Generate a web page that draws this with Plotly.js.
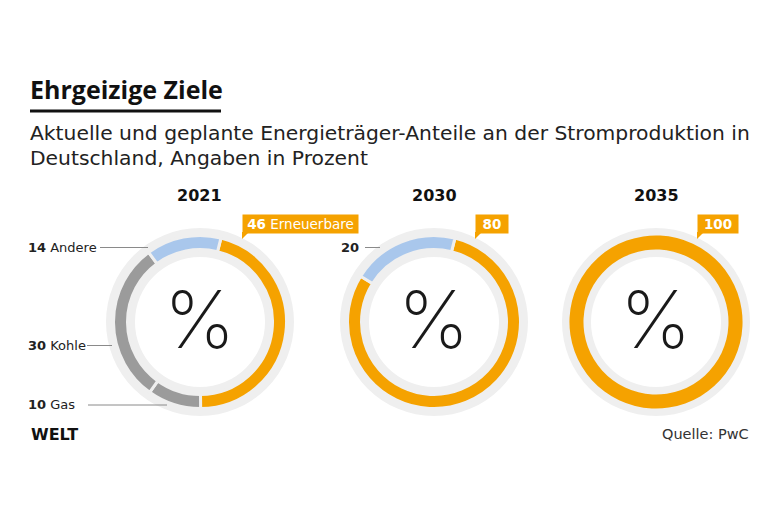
<!DOCTYPE html>
<html><head><meta charset="utf-8">
<script src="https://cdn.plot.ly/plotly-3.0.1.min.js"></script>
<style>html,body{margin:0;padding:0;background:#fff}#chart{width:780px;height:520px}</style>
</head><body><div id="chart"></div>
<script>
// ---- data ----
const years = ['2021', '2030', '2035'];
const categories = ['Erneuerbare', 'Gas', 'Kohle', 'Andere'];
const shares2021 = [46, 10, 30, 14];
const shares2030 = [80, 0, 0, 20];
const shares2035 = [100, 0, 0, 0];
const titleText = 'Ehrgeizige Ziele';
const subtitleLines = ['Aktuelle und geplante Energieträger-Anteile an der Stromproduktion in', 'Deutschland, Angaben in Prozent'];
const sourceText = 'Quelle: PwC';
const brandText = 'WELT';

// ---- layout helpers ----
const W = 780, H = 520;
const px = x => x / W, py = y => 1 - y / H;
const FONT = 'DejaVu Sans, sans-serif';
const TFONT = 'Open Sans, sans-serif';
const colors = {Erneuerbare: '#F5A200', Gas: '#9B9B9B', Kohle: '#9B9B9B', Andere: '#A9C7EC'};
const ringBg = '#EFEFEF';
const centersX = [200, 434, 656];
const CY = 322;
const R_BG = 94, R_BG_IN = 65, R_COL = 86.5, R_COL_IN = 72.5;
const allShares = [shares2021, shares2030, shares2035];

function dom(cx, r) {
  return {x: [px(cx - r), px(cx + r)], y: [py(CY + r), py(CY - r)]};
}

const traces = [];
const annotations = [];
const shapes = [];

years.forEach((yr, i) => {
  const cx = centersX[i];
  traces.push({
    type: 'pie', values: [1], labels: ['bg'], hole: R_BG_IN / R_BG,
    domain: dom(cx, R_BG), marker: {colors: [ringBg], line: {width: 0}},
    textinfo: 'none', hoverinfo: 'skip', sort: false, showlegend: false
  });
  const labs = [], vals = [], cols = [];
  categories.forEach((c, k) => {
    if (allShares[i][k] > 0) { labs.push(c); vals.push(allShares[i][k]); cols.push(colors[c]); }
  });
  traces.push({
    type: 'pie', values: vals, labels: labs, hole: R_COL_IN / R_COL,
    domain: dom(cx, R_COL), marker: {colors: cols, line: {color: ringBg, width: vals.length > 1 ? 3 : 0}},
    textinfo: 'none', hoverinfo: 'skip', sort: false, direction: 'clockwise', rotation: 14,
    showlegend: false
  });
  // year label
  annotations.push({x: px(cx), y: py(195), xref: 'paper', yref: 'paper', text: '<b>' + yr + '</b>',
    showarrow: false, xanchor: 'center', yanchor: 'middle', font: {family: FONT, size: 16, color: '#111'}});
  // percent sign
  annotations.push({x: px(cx - 1), y: py(318), xref: 'paper', yref: 'paper', text: '%',
    showarrow: false, xanchor: 'center', yanchor: 'middle',
    font: {family: 'Inter, Lato, sans-serif', size: 80, weight: 200, color: '#1a1a1a'}});
});

// orange value boxes (Erneuerbare)
const boxLeft = [242, 475, 697];
const boxWidth = [111, 28, 36];
years.forEach((yr, i) => {
  const v = allShares[i][0];
  const txt = i === 0 ? '<b>' + v + '</b> ' + categories[0] : '<b>' + v + '</b>';
  annotations.push({x: px(boxLeft[i]), y: py(224), xref: 'paper', yref: 'paper', text: txt,
    showarrow: false, xanchor: 'left', yanchor: 'middle', bgcolor: colors.Erneuerbare, borderpad: 2,
    width: boxWidth[i], height: 14, align: 'center', valign: 'middle',
    font: {family: FONT, size: 13.5, color: '#fff'}});
  const bx = boxLeft[i];
  shapes.push({type: 'path', xref: 'paper', yref: 'paper', line: {width: 0}, fillcolor: colors.Erneuerbare,
    path: `M ${px(bx)} ${py(232)} L ${px(bx)} ${py(239)} L ${px(bx + 7)} ${py(232)} Z`});
});

// side labels
function sideLabel(x, y, val, name, anchor) {
  annotations.push({x: px(x), y: py(y), xref: 'paper', yref: 'paper',
    text: '<b>' + val + '</b>' + (name ? ' ' + name : ''), showarrow: false,
    xanchor: anchor, yanchor: 'middle', font: {family: FONT, size: 13, color: '#222'}});
}
function leader(x0, x1, y) {
  shapes.push({type: 'line', xref: 'paper', yref: 'paper', x0: px(x0), x1: px(x1), y0: py(y), y1: py(y),
    line: {color: '#8a8a8a', width: 1}});
}
sideLabel(26, 247, shares2021[3], categories[3], 'left'); leader(100, 148, 247.5);
sideLabel(26, 345, shares2021[2], categories[2], 'left'); leader(87, 112, 345.5);
sideLabel(26, 404, shares2021[1], categories[1], 'left'); leader(88, 167, 405);
sideLabel(361, 247, shares2030[3], '', 'right'); leader(365, 380, 247.5);

// title, subtitle, footer
annotations.push({x: px(28), y: py(89), xref: 'paper', yref: 'paper', text: '<b>' + titleText + '</b>',
  showarrow: false, xanchor: 'left', yanchor: 'middle', font: {family: TFONT, size: 25, color: '#111'}});
shapes.push({type: 'line', xref: 'paper', yref: 'paper', x0: px(30), x1: px(221), y0: py(111), y1: py(111),
  line: {color: '#111', width: 3}});
subtitleLines.forEach((t, k) => {
  annotations.push({x: px(28), y: py(133 + 25 * k), xref: 'paper', yref: 'paper', text: t,
    showarrow: false, xanchor: 'left', yanchor: 'middle', font: {family: FONT, size: 20.3, color: '#222'}});
});
annotations.push({x: px(29), y: py(434), xref: 'paper', yref: 'paper', text: '<b>' + brandText + '</b>',
  showarrow: false, xanchor: 'left', yanchor: 'middle', font: {family: FONT, size: 16, color: '#111'}});
annotations.push({x: px(751), y: py(434), xref: 'paper', yref: 'paper', text: sourceText,
  showarrow: false, xanchor: 'right', yanchor: 'middle', font: {family: FONT, size: 14.5, color: '#333'}});

const layout = {
  width: W, height: H, margin: {l: 0, r: 0, t: 0, b: 0},
  paper_bgcolor: '#fff', plot_bgcolor: '#fff',
  showlegend: false, annotations: annotations, shapes: shapes
};
Plotly.newPlot('chart', traces, layout, {staticPlot: true, displayModeBar: false});
</script></body></html>
